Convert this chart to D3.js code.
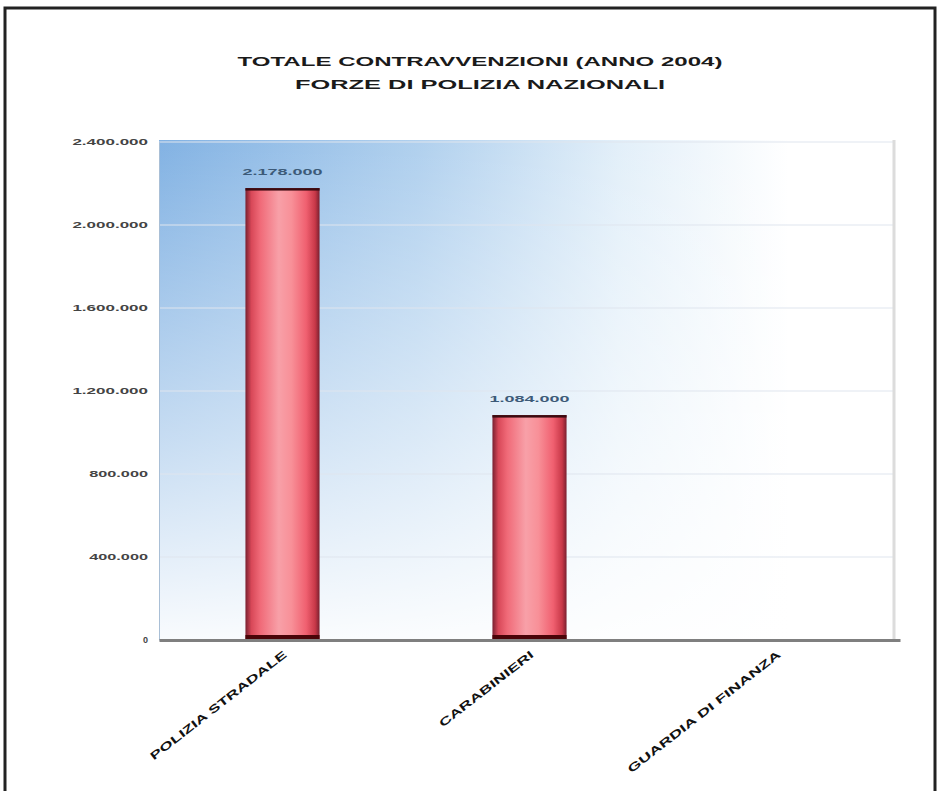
<!DOCTYPE html>
<html>
<head>
<meta charset="utf-8">
<script src="https://cdn.jsdelivr.net/npm/d3@7"></script>
<style>
  html, body { margin: 0; padding: 0; background: #ffffff; }
  svg { display: block; }
  text { font-family: "Liberation Sans", Arial, sans-serif; }
</style>
</head>
<body>
<svg id="chart" width="943" height="791"></svg>
<script>
// Contravvenzioni totali per forza di polizia
const categories = ["POLIZIA STRADALE", "CARABINIERI", "GUARDIA DI FINANZA"];
const values = [2178000, 1084000, 0];
const yTicks = [0, 400000, 800000, 1200000, 1600000, 2000000, 2400000];
const titleLines = ["TOTALE CONTRAVVENZIONI (ANNO 2004)", "FORZE DI POLIZIA NAZIONALI"];

const svg = d3.select("#chart");
const plot = { left: 159, right: 900, top: 140, bottom: 640 };

const it = d3.formatLocale({ decimal: ",", thousands: ".", grouping: [3], currency: ["€", ""] });
const fmt = it.format(",d");

const x = d3.scaleBand().domain(categories).range([plot.left, plot.right])
  .paddingInner(0.7).paddingOuter(0.35);
const y = d3.scaleLinear().domain([0, 2400000]).range([plot.bottom, plot.bottom - 498]);

const defs = svg.append("defs");

// plot background: blue in the upper left fading to white
const gH = defs.append("linearGradient").attr("id", "bgH").attr("x1", 0).attr("x2", 1).attr("y1", 0).attr("y2", 0);
gH.append("stop").attr("offset", "0%").attr("stop-color", "#82b2e3");
gH.append("stop").attr("offset", "35%").attr("stop-color", "#b0d0ee");
gH.append("stop").attr("offset", "62%").attr("stop-color", "#e2eff9");
gH.append("stop").attr("offset", "85%").attr("stop-color", "#ffffff");
const gV = defs.append("linearGradient").attr("id", "bgV").attr("x1", 0).attr("x2", 0).attr("y1", 0).attr("y2", 1);
gV.append("stop").attr("offset", "0%").attr("stop-color", "#ffffff").attr("stop-opacity", 0);
gV.append("stop").attr("offset", "60%").attr("stop-color", "#ffffff").attr("stop-opacity", 0.55);
gV.append("stop").attr("offset", "100%").attr("stop-color", "#ffffff").attr("stop-opacity", 0.95);

// cylinder-like shading across each bar
const gBar = defs.append("linearGradient").attr("id", "barG").attr("x1", 0).attr("x2", 1).attr("y1", 0).attr("y2", 0);
[["0%", "#7a2030"], ["8%", "#d84858"], ["20%", "#f06a78"], ["45%", "#f8a0a8"], ["62%", "#f89098"], ["82%", "#f06070"], ["94%", "#c83848"], ["100%", "#7a2030"]]
  .forEach(([o, c]) => gBar.append("stop").attr("offset", o).attr("stop-color", c));

// outer frame
svg.append("rect").attr("x", 5).attr("y", 8).attr("width", 930).attr("height", 800)
  .attr("fill", "none").attr("stroke", "#222").attr("stroke-width", 3);

// title
titleLines.forEach((t, i) => {
  svg.append("text")
    .attr("x", 480).attr("y", 66 + i * 23)
    .attr("text-anchor", "middle")
    .attr("font-size", 13).attr("font-weight", "bold").attr("fill", "#1a1a1a")
    .attr("textLength", i === 0 ? 485 : 370).attr("lengthAdjust", "spacingAndGlyphs")
    .text(t);
});

// plot area
svg.append("rect").attr("x", plot.left).attr("y", plot.top)
  .attr("width", plot.right - plot.left).attr("height", plot.bottom - plot.top)
  .attr("fill", "url(#bgH)");
svg.append("rect").attr("x", plot.left).attr("y", plot.top)
  .attr("width", plot.right - plot.left).attr("height", plot.bottom - plot.top)
  .attr("fill", "url(#bgV)");

// gridlines
svg.append("g").selectAll("line").data(yTicks.slice(1)).join("line")
  .attr("x1", plot.left).attr("x2", plot.right - 6)
  .attr("y1", d => y(d)).attr("y2", d => y(d))
  .attr("stroke", "#dfe5ee").attr("stroke-width", 1);

// right border of the plot area
svg.append("line").attr("x1", plot.right - 6).attr("x2", plot.right - 6)
  .attr("y1", plot.top).attr("y2", plot.bottom)
  .attr("stroke", "#dcdcdc").attr("stroke-width", 3);

// y axis
const yAxis = d3.axisLeft(y).tickValues(yTicks).tickFormat(fmt).tickSize(0).tickPadding(11);
const gy = svg.append("g").attr("transform", `translate(${plot.left},0)`).call(yAxis);
gy.select(".domain").attr("stroke", "#a9bfd6").attr("stroke-width", 1);
gy.selectAll("text")
  .attr("font-size", 9).attr("font-weight", "bold").attr("fill", "#444")
  .attr("font-family", "Liberation Sans, Arial, sans-serif")
  .each(function(d) {
    const s = fmt(d);
    if (s.length > 1) d3.select(this).attr("textLength", s.length * 8.4).attr("lengthAdjust", "spacingAndGlyphs");
  });

// bars
const bars = svg.append("g").selectAll("g").data(categories.map((c, i) => ({ c, v: values[i] })))
  .join("g").filter(d => d.v > 0);
bars.append("rect")
  .attr("x", d => x(d.c)).attr("y", d => y(d.v))
  .attr("width", x.bandwidth()).attr("height", d => y(0) - y(d.v))
  .attr("fill", "url(#barG)");
bars.append("rect")
  .attr("x", d => x(d.c)).attr("y", d => y(d.v))
  .attr("width", x.bandwidth()).attr("height", 2.5)
  .attr("fill", "#3a0a10");
bars.append("rect")
  .attr("x", d => x(d.c)).attr("y", y(0) - 5)
  .attr("width", x.bandwidth()).attr("height", 5)
  .attr("fill", "#4a0408");

// value labels
bars.append("text")
  .attr("x", d => x(d.c) + x.bandwidth() / 2).attr("y", d => y(d.v) - 13)
  .attr("text-anchor", "middle")
  .attr("font-size", 9).attr("font-weight", "bold").attr("fill", "#3c5a78")
  .attr("textLength", 80).attr("lengthAdjust", "spacingAndGlyphs")
  .text(d => fmt(d.v));

// x axis
const xAxis = d3.axisBottom(x).tickSize(0).tickPadding(0);
const gx = svg.append("g").attr("transform", `translate(0,${plot.bottom})`).call(xAxis);
gx.select(".domain").attr("stroke", "#7f7f7f").attr("stroke-width", 3);
gx.selectAll("text")
  .attr("font-size", 11).attr("font-weight", "bold").attr("fill", "#111")
  .attr("font-family", "Liberation Sans, Arial, sans-serif")
  .attr("text-anchor", "end")
  .attr("dy", null).attr("y", 0)
  .attr("transform", "translate(5,16) rotate(-38)")
  .attr("textLength", d => d.length * 10.6).attr("lengthAdjust", "spacingAndGlyphs");
</script>
</body>
</html>
